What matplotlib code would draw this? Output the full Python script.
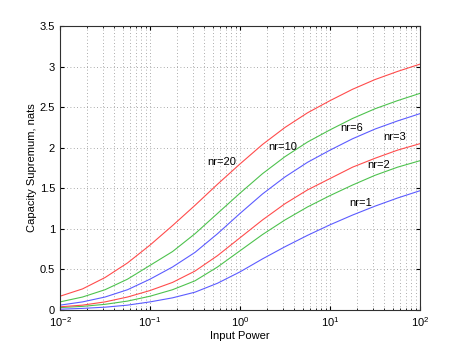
import numpy as np
import matplotlib
matplotlib.use("Agg")
import matplotlib.pyplot as plt
from matplotlib.ticker import LogLocator, NullFormatter

plt.rcParams['font.family'] = ['Liberation Sans', 'DejaVu Sans']
plt.rcParams['mathtext.fontset'] = 'custom'
plt.rcParams['mathtext.rm'] = 'Liberation Sans'
plt.rcParams['mathtext.it'] = 'Liberation Sans'

# input power, read every quarter decade (log10 exponent -2 .. 2)
power_exp = [-2, -1.75, -1.5, -1.25, -1, -0.75, -0.5, -0.25, 0,
             0.25, 0.5, 0.75, 1, 1.25, 1.5, 1.75, 2]

cap_nr1 = [0.01, 0.02, 0.035, 0.06, 0.10, 0.15, 0.22, 0.33, 0.47,
           0.63, 0.78, 0.92, 1.05, 1.17, 1.28, 1.38, 1.47]
cap_nr2 = [0.03, 0.045, 0.07, 0.11, 0.17, 0.25, 0.36, 0.53, 0.73,
           0.93, 1.11, 1.27, 1.41, 1.54, 1.66, 1.76, 1.84]
cap_nr3 = [0.04, 0.06, 0.10, 0.16, 0.24, 0.34, 0.48, 0.67, 0.89,
           1.11, 1.31, 1.48, 1.62, 1.76, 1.87, 1.97, 2.05]
cap_nr6 = [0.06, 0.10, 0.16, 0.25, 0.38, 0.53, 0.71, 0.94, 1.19,
           1.43, 1.64, 1.82, 1.97, 2.11, 2.23, 2.33, 2.42]
cap_nr10 = [0.10, 0.16, 0.25, 0.38, 0.55, 0.72, 0.94, 1.19, 1.44,
            1.68, 1.89, 2.07, 2.22, 2.36, 2.48, 2.58, 2.67]
cap_nr20 = [0.17, 0.26, 0.40, 0.58, 0.80, 1.04, 1.29, 1.55, 1.80,
            2.04, 2.25, 2.43, 2.58, 2.72, 2.84, 2.94, 3.03]

labels = ['nr=1', 'nr=2', 'nr=3', 'nr=6', 'nr=10', 'nr=20']
label_x = [22.0, 35.0, 52.0, 17.5, 3.0, 0.63]
label_y = [1.32, 1.79, 2.13, 2.24, 2.01, 1.82]

blue = '#5c5cff'
green = '#4ec24e'
red = '#ff4c4c'

power = 10.0 ** np.array(power_exp)

fig = plt.figure(figsize=(4.63, 3.49), dpi=100)
ax = fig.add_axes([0.1296, 0.1117, 0.7775, 0.8138])

curves = [cap_nr1, cap_nr2, cap_nr3, cap_nr6, cap_nr10, cap_nr20]
colors = [blue, green, red, blue, green, red]
for c, col in zip(curves, colors):
    ax.plot(power, c, color=col, lw=0.8)

for lab, lx, ly in zip(labels, label_x, label_y):
    ax.text(lx, ly, lab, fontsize=8, ha='center', va='center')

ax.set_xscale('log')
ax.set_xlim(1e-2, 1e2)
ax.set_ylim(0, 3.5)
ax.set_yticks(np.arange(0, 3.6, 0.5))
ax.set_yticklabels(['0', '0.5', '1', '1.5', '2', '2.5', '3', '3.5'])
ax.xaxis.set_major_locator(LogLocator(base=10, numticks=10))
ax.xaxis.set_minor_locator(LogLocator(base=10, subs=np.arange(2, 10), numticks=10))
ax.xaxis.set_minor_formatter(NullFormatter())

grid_style = dict(linestyle=(0, (1, 3)), color='#909090', lw=0.6)
ax.grid(True, which='major', **grid_style)
ax.grid(True, which='minor', axis='x', **grid_style)
ax.tick_params(which='both', direction='in', top=True, right=True, labelsize=8)
ax.tick_params(which='major', length=3)
ax.tick_params(which='minor', length=1.5)
for s in ax.spines.values():
    s.set_color('#303030')
    s.set_linewidth(0.8)

ax.set_xlabel('Input Power', fontsize=8, labelpad=2)
ax.set_ylabel('Capacity Supremum, nats', fontsize=8, labelpad=2)

fig.savefig('out.png', dpi=100)
